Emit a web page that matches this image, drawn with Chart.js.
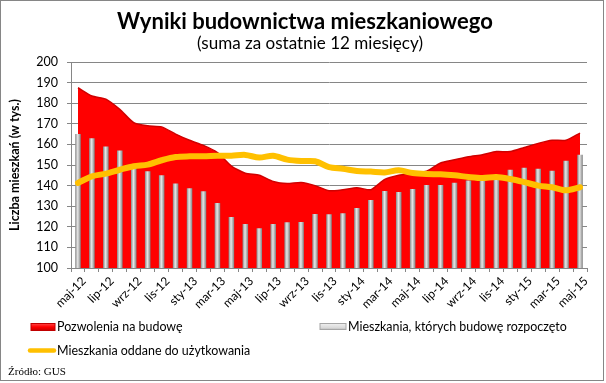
<!DOCTYPE html>
<html>
<head>
<meta charset="utf-8">
<script src="https://cdn.jsdelivr.net/npm/chart.js@4/dist/chart.umd.min.js"></script>
<style>
  html, body { margin: 0; padding: 0; background: #fff; }
  #wrap { position: relative; width: 606px; height: 383px; }
</style>
</head>
<body>
<div id="wrap"><canvas id="c"></canvas></div>
<script>
// ---- data ----
const months = ['maj-12','cze-12','lip-12','sie-12','wrz-12','paź-12','lis-12','gru-12',
  'sty-13','lut-13','mar-13','kwi-13','maj-13','cze-13','lip-13','sie-13','wrz-13','paź-13','lis-13','gru-13',
  'sty-14','lut-14','mar-14','kwi-14','maj-14','cze-14','lip-14','sie-14','wrz-14','paź-14','lis-14','gru-14',
  'sty-15','lut-15','mar-15','kwi-15','maj-15'];
const permits = [187.5,183.5,182,177,170.5,169,168.5,165,162,159.5,156,149.5,146,145,142,141,
  141.5,140,137.5,138,139,138,143,145,146,147,151,152.5,154,155,156.5,156.5,158.5,160.5,162,162,165.5];
const started = [165,163,159,157,149,147,145,141,138.7,137.3,131.5,124.8,121.3,119.3,121.3,122.2,
  122.3,126.2,126.1,126.6,129.1,133,137.4,136.9,138.3,140.3,140.3,141.4,142.5,143,143.5,147.7,148.7,148.2,147.2,152.1,155];
const completed = [141.3,144.5,145.8,147.7,149.4,150.2,152.3,153.9,154.2,154.2,154.5,154.5,154.9,153.6,154.5,152.6,
  151.9,151.8,149,148.2,147.1,146.8,146.4,147.4,146.1,145.6,145.5,145,144.2,143.7,144.2,143.2,141.7,140,139.2,137.7,139.2];
const seriesNames = ['Pozwolenia na budowę','Mieszkania, których budowę rozpoczęto','Mieszkania oddane do użytkowania'];
const yTicks = [100,110,120,130,140,150,160,170,180,190,200];
const titleText = 'Wyniki budownictwa mieszkaniowego';
const subtitleText = '(suma za ostatnie 12 miesięcy)';
const yTitle = 'Liczba mieszkań (w tys.)';
const sourceText = 'Źródło: GUS';

const FONT = 'Lato, "Open Sans", sans-serif';
const GRID = '#868686';

function fitSize(ctx, text, weight, family, width) {
  ctx.save();
  ctx.font = weight + ' 100px ' + family;
  const w = ctx.measureText(text).width;
  ctx.restore();
  return 100 * width / w;
}

const decor = {
  id: 'decor',
  beforeDraw(chart) {
    const ctx = chart.ctx;
    ctx.save();
    ctx.fillStyle = '#fff';
    ctx.fillRect(0, 0, chart.width, chart.height);
    ctx.restore();
  },
  afterDraw(chart) {
    const ctx = chart.ctx;
    ctx.save();
    // border
    ctx.strokeStyle = GRID;
    ctx.lineWidth = 1;
    ctx.strokeRect(0.5, 0.5, 603, 380);
    ctx.fillStyle = '#000';
    ctx.textBaseline = 'middle';
    // title
    ctx.textAlign = 'center';
    let s = fitSize(ctx, titleText, 'bold', FONT, 376);
    ctx.font = 'bold ' + s + 'px ' + FONT;
    ctx.fillText(titleText, 305, 21.5);
    s = fitSize(ctx, subtitleText, 'normal', FONT, 226);
    ctx.font = 'normal ' + s + 'px ' + FONT;
    ctx.fillText(subtitleText, 310, 43);
    // legend
    ctx.textAlign = 'left';
    const ls = fitSize(ctx, seriesNames[1], 'normal', FONT, 219);
    ctx.font = 'normal ' + ls + 'px ' + FONT;
    // red box
    let g = ctx.createLinearGradient(0, 323, 0, 331);
    g.addColorStop(0, '#ff5050'); g.addColorStop(0.5, '#ff0000'); g.addColorStop(1, '#c00000');
    ctx.fillStyle = g;
    ctx.fillRect(31, 323.5, 24, 7);
    ctx.strokeStyle = '#c00000';
    ctx.strokeRect(31, 323.5, 24, 7);
    ctx.fillStyle = '#000';
    ctx.fillText(seriesNames[0], 57, 327);
    // gray box
    g = ctx.createLinearGradient(0, 323, 0, 331);
    g.addColorStop(0, '#f2f2f2'); g.addColorStop(0.6, '#d9d9d9'); g.addColorStop(1, '#a0a0a0');
    ctx.fillStyle = g;
    ctx.fillRect(320, 323.5, 26, 6);
    ctx.strokeStyle = '#a6a6a6';
    ctx.strokeRect(320, 323.5, 26, 6);
    ctx.fillStyle = '#000';
    ctx.fillText(seriesNames[1], 348, 327);
    // yellow line
    ctx.strokeStyle = '#ffc000';
    ctx.lineWidth = 4.5;
    ctx.lineCap = 'round';
    ctx.beginPath(); ctx.moveTo(30, 350.5); ctx.lineTo(54, 350.5); ctx.stroke();
    ctx.fillText(seriesNames[2], 57, 350.5);
    // source
    const fs = fitSize(ctx, sourceText, 'normal', '"Liberation Serif", serif', 58);
    ctx.font = 'normal ' + fs + 'px "Liberation Serif", serif';
    ctx.fillText(sourceText, 8, 372);
    ctx.restore();
  }
};

function barGradient(c) {
  const chart = c.chart;
  if (c.type !== 'data' || !chart.chartArea) return '#b0b0b0';
  const x = chart.scales.x.getPixelForValue(c.dataIndex);
  const g = chart.ctx.createLinearGradient(x - 3, 0, x + 3, 0);
  g.addColorStop(0, '#808080');
  g.addColorStop(0.45, '#e6e6e6');
  g.addColorStop(1, '#7a7a7a');
  return g;
}

new Chart(document.getElementById('c'), {
  type: 'bar',
  data: {
    labels: months,
    datasets: [
      {
        type: 'line', label: seriesNames[2], data: completed, order: 0,
        borderColor: '#ffc000', borderWidth: 6, tension: 0.3,
        pointRadius: 0, fill: false, borderCapStyle: 'round', borderJoinStyle: 'round'
      },
      {
        type: 'bar', label: seriesNames[1], data: started, order: 1,
        backgroundColor: barGradient, borderWidth: 0,
        barPercentage: 0.4, categoryPercentage: 1
      },
      {
        type: 'line', label: seriesNames[0], data: permits, order: 2,
        borderColor: '#d00000', borderWidth: 1.5, backgroundColor: '#ff0000',
        fill: 'start', tension: 0.2, pointRadius: 0
      }
    ]
  },
  options: {
    responsive: true,
    maintainAspectRatio: false,
    animation: false,
    events: [],
    layout: { padding: { top: 62, right: 19, bottom: 0, left: 0 } },
    plugins: { legend: { display: false }, tooltip: { enabled: false }, title: { display: false } },
    scales: {
      x: {
        offset: true,
        grid: { display: true, drawOnChartArea: false, drawTicks: true, tickLength: 4, color: GRID, offset: true },
        border: { display: true, color: GRID },
        ticks: {
          autoSkip: false, minRotation: 45, maxRotation: 45, padding: 2, labelOffset: 6,
          color: '#000', font: { family: FONT, size: 12 },
          callback: function (v, i) { return i % 2 === 0 ? months[i] : ''; }
        },
        afterFit: function (s) { s.height = 115; }
      },
      y: {
        min: yTicks[0], max: yTicks[yTicks.length - 1],
        afterBuildTicks: function (s) { s.ticks = yTicks.map(v => ({ value: v })); },
        grid: { color: GRID, tickLength: 4, drawTicks: true },
        border: { display: true, color: GRID },
        ticks: { color: '#000', padding: 9, font: { family: FONT, size: 12.5 } },
        title: { display: true, text: yTitle, color: '#000', font: { family: FONT, size: 12.5, weight: 'bold' }, padding: { top: 7, bottom: 0 } },
        afterFit: function (s) { s.width = 71; }
      }
    }
  },
  plugins: [decor]
});
</script>
</body>
</html>
